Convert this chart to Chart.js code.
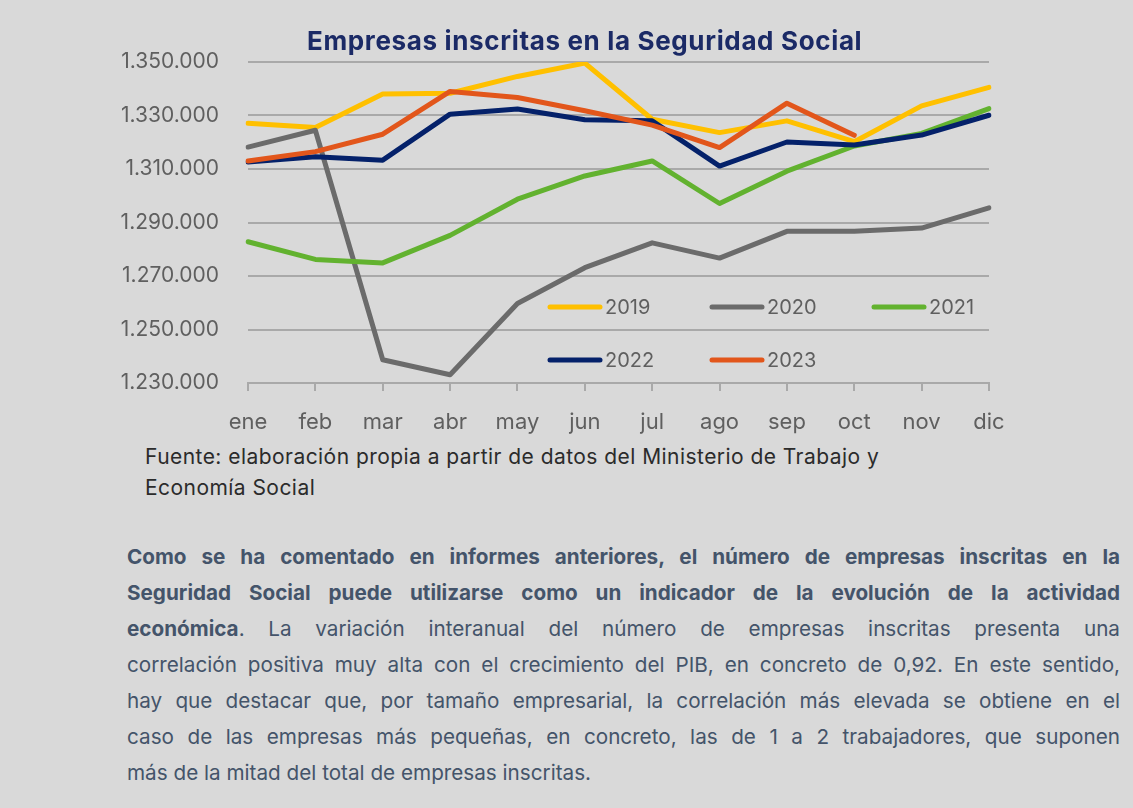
<!DOCTYPE html>
<html>
<head>
<meta charset="utf-8">
<script src="https://cdn.jsdelivr.net/npm/chart.js@4.4.1/dist/chart.umd.min.js"></script>
<style>
    html, body { margin: 0; padding: 0; background: #d9d9d9; width: 1133px; height: 808px; overflow: hidden; }
    #chartBox { position: absolute; left: 0; top: 0; width: 1133px; height: 440px; }
    #title {
        position: absolute; left: 307px; top: 25px; white-space: nowrap;
        font-family: Inter, sans-serif; font-weight: 700; font-size: 26px; color: #1b2a66;
        letter-spacing: 0.65px;
    }
    #source {
        position: absolute; left: 145px; top: 441px;
        font-family: Inter, sans-serif; font-size: 21px; line-height: 31px; color: #2b2b2b;
        letter-spacing: 0.45px;
    }
    #text {
        position: absolute; left: 127px; top: 539px; width: 993px;
        font-family: Inter, sans-serif; font-size: 20.7px; line-height: 36px; color: #44546a;
    }
    #text div { text-align: justify; text-align-last: justify; white-space: nowrap; }
    #text div.last { text-align-last: left; }
</style>
</head>
<body>
<div id="chartBox"><canvas id="chart"></canvas></div>
<div id="title">Empresas inscritas en la Seguridad Social</div>
<div id="source">Fuente: elaboración propia a partir de datos del Ministerio de Trabajo y<br>Economía Social</div>
<div id="text">
    <div><b>Como se ha comentado en informes anteriores, el número de empresas inscritas en la</b></div>
    <div><b>Seguridad Social puede utilizarse como un indicador de la evolución de la actividad</b></div>
    <div><b>económica</b>. La variación interanual del número de empresas inscritas presenta una</div>
    <div>correlación positiva muy alta con el crecimiento del PIB, en concreto de 0,92. En este sentido,</div>
    <div>hay que destacar que, por tamaño empresarial, la correlación más elevada se obtiene en el</div>
    <div>caso de las empresas más pequeñas, en concreto, las de 1 a 2 trabajadores, que suponen</div>
    <div class="last">más de la mitad del total de empresas inscritas.</div>
</div>
<script>
// Data
const months = ['ene', 'feb', 'mar', 'abr', 'may', 'jun', 'jul', 'ago', 'sep', 'oct', 'nov', 'dic'];
const years = ['2019', '2020', '2021', '2022', '2023'];
const s2019 = [1327100, 1325500, 1338000, 1338300, 1344600, 1349600, 1328600, 1323600, 1328000, 1320200, 1333600, 1340500];
const s2020 = [1318200, 1324500, 1238700, 1233100, 1259700, 1273100, 1282400, 1276700, 1286700, 1286700, 1287900, 1295500];
const s2021 = [1282800, 1276200, 1274900, 1285200, 1298700, 1307400, 1313000, 1297100, 1309200, 1318600, 1323300, 1332600];
const s2022 = [1312600, 1314600, 1313300, 1330500, 1332400, 1328400, 1328000, 1311100, 1320100, 1319000, 1322700, 1330100];
const s2023 = [1313000, 1316500, 1323000, 1339000, 1336700, 1331800, 1326400, 1318000, 1334600, 1322600, null, null];
const yTicks = [1230000, 1250000, 1270000, 1290000, 1310000, 1330000, 1350000];

const colors = ['#ffc000', '#6b6b6b', '#62b22f', '#04216a', '#e2561b'];
const seriesList = [s2019, s2020, s2021, s2022, s2023];

const tickColor = '#5f5f5f';
const gridColor = '#a9a9a9';

// legend drawn inside the plot area, two rows like the original
const legendInPlot = {
    id: 'legendInPlot',
    afterDatasetsDraw(chart) {
        const ctx = chart.ctx;
        const cols = [548, 710, 872];
        const rows = [307, 360];
        ctx.save();
        ctx.font = '20px Inter';
        ctx.textBaseline = 'middle';
        ctx.textAlign = 'left';
        years.forEach((y, i) => {
            const x = cols[i % 3];
            const yy = rows[Math.floor(i / 3)];
            ctx.strokeStyle = colors[i];
            ctx.lineWidth = 5;
            ctx.lineCap = 'round';
            ctx.beginPath();
            ctx.moveTo(x + 2, yy);
            ctx.lineTo(x + 52, yy);
            ctx.stroke();
            ctx.fillStyle = tickColor;
            ctx.fillText(y, x + 57, yy + 1);
        });
        ctx.restore();
    }
};

const chart = new Chart(document.getElementById('chart'), {
    type: 'line',
    data: {
        labels: months,
        datasets: seriesList.map((s, i) => ({
            label: years[i],
            data: s,
            borderColor: colors[i],
            backgroundColor: colors[i],
            borderWidth: 5,
            pointRadius: 0,
            tension: 0,
            borderJoinStyle: 'round',
            borderCapStyle: 'round',
            order: seriesList.length - i
        }))
    },
    options: {
        responsive: true,
        maintainAspectRatio: false,
        animation: false,
        layout: { padding: { left: 0, right: 144, top: 62, bottom: 0 } },
        plugins: {
            legend: { display: false },
            title: { display: false },
            tooltip: { enabled: false }
        },
        scales: {
            x: {
                offset: false,
                grid: { display: true, drawOnChartArea: false, drawTicks: true, tickLength: 8, color: gridColor, lineWidth: 2 },
                border: { display: true, color: gridColor, width: 2 },
                ticks: { color: tickColor, font: { family: 'Inter', size: 22 }, padding: 18, maxRotation: 0, autoSkip: false },
                afterFit: s => { s.height = 57; }
            },
            y: {
                min: 1230000,
                max: 1350000,
                afterBuildTicks: s => { s.ticks = yTicks.map(v => ({ value: v })); },
                grid: { color: gridColor, lineWidth: 2, drawTicks: false },
                border: { display: false },
                ticks: {
                    color: tickColor, font: { family: 'Inter', size: 21 }, padding: 29,
                    callback: v => v.toLocaleString('de-DE')
                },
                afterFit: s => { s.width = 248; }
            }
        }
    },
    plugins: [legendInPlot]
});
</script>
</body>
</html>
